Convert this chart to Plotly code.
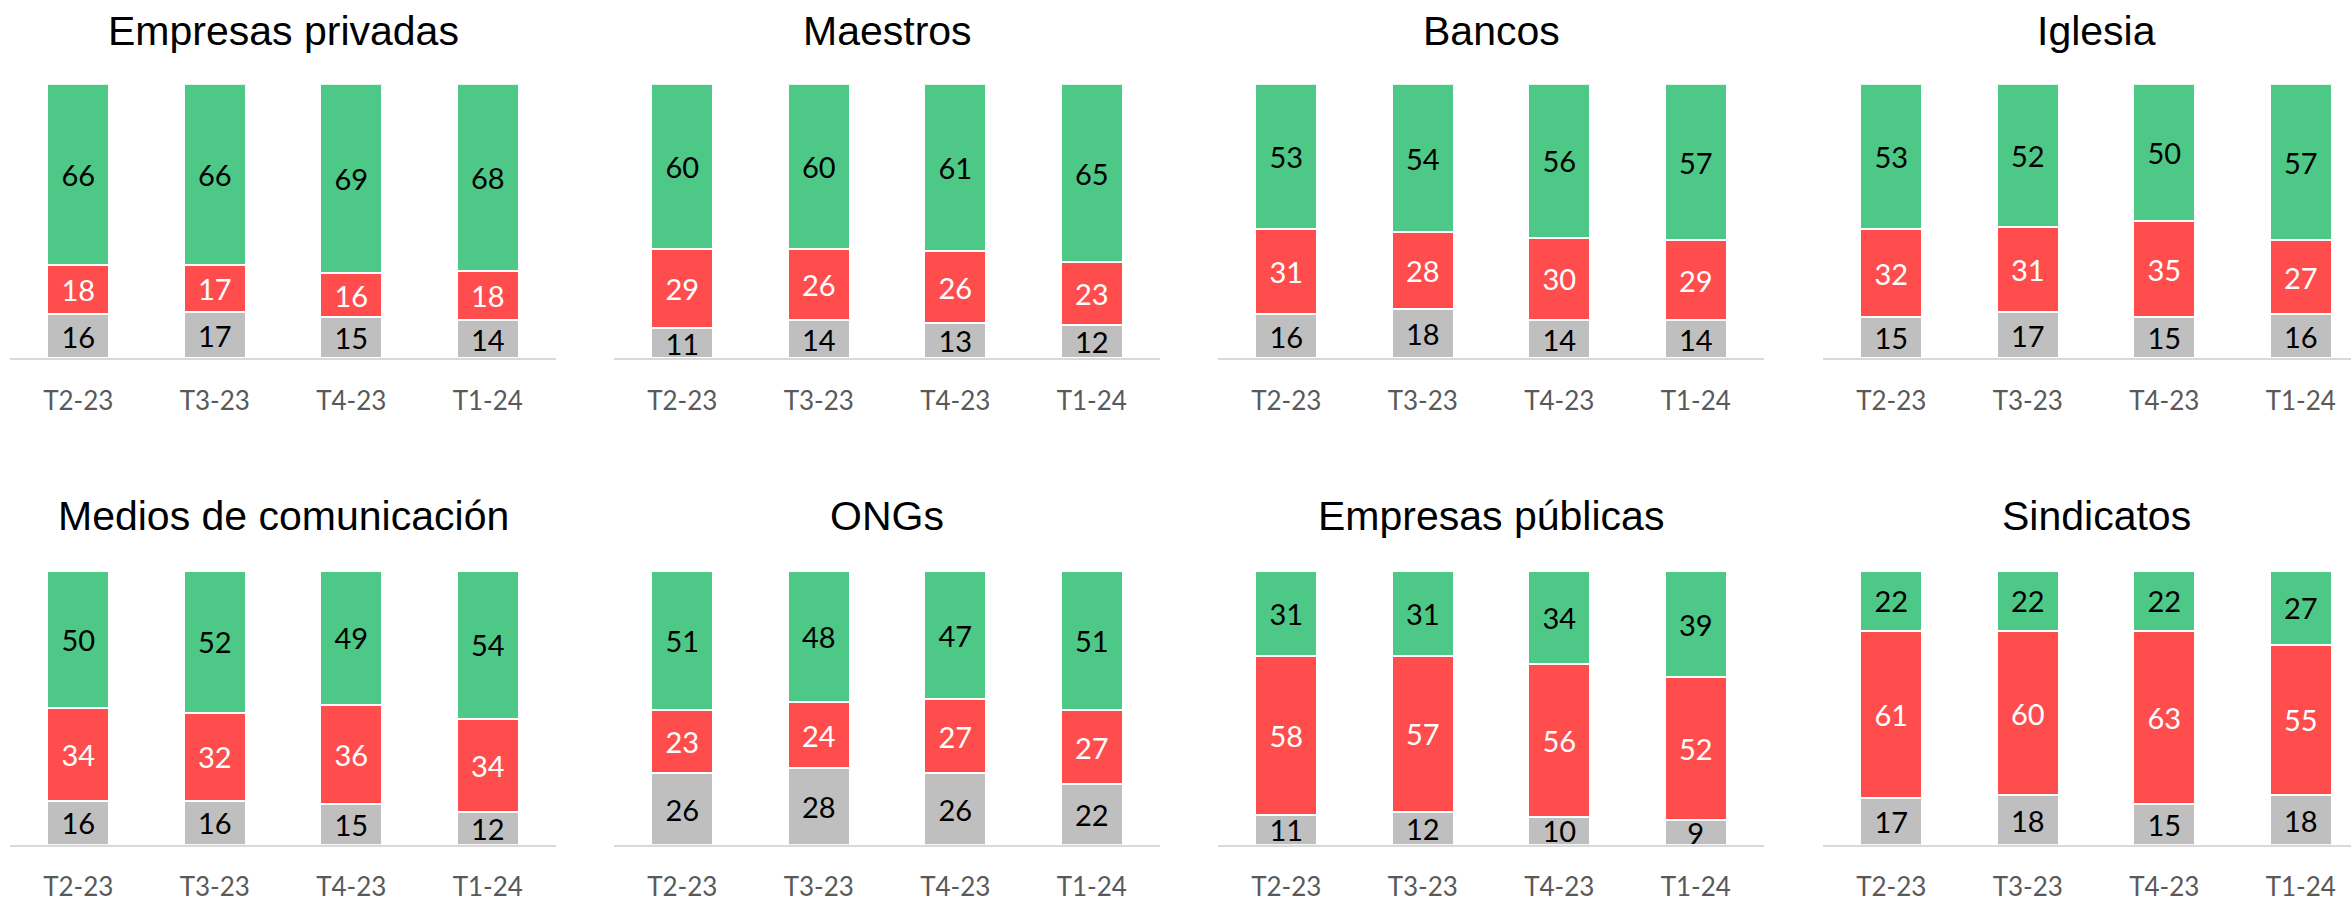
import plotly.graph_objects as go

periodos = ["T2-23", "T3-23", "T4-23", "T1-24"]
instituciones = ["Empresas privadas", "Maestros", "Bancos", "Iglesia",
                 "Medios de comunicación", "ONGs", "Empresas públicas", "Sindicatos"]

positivo = {
    "Empresas privadas": [66, 66, 69, 68],
    "Maestros": [60, 60, 61, 65],
    "Bancos": [53, 54, 56, 57],
    "Iglesia": [53, 52, 50, 57],
    "Medios de comunicación": [50, 52, 49, 54],
    "ONGs": [51, 48, 47, 51],
    "Empresas públicas": [31, 31, 34, 39],
    "Sindicatos": [22, 22, 22, 27],
}
negativo = {
    "Empresas privadas": [18, 17, 16, 18],
    "Maestros": [29, 26, 26, 23],
    "Bancos": [31, 28, 30, 29],
    "Iglesia": [32, 31, 35, 27],
    "Medios de comunicación": [34, 32, 36, 34],
    "ONGs": [23, 24, 27, 27],
    "Empresas públicas": [58, 57, 56, 52],
    "Sindicatos": [61, 60, 63, 55],
}
ns_nc = {
    "Empresas privadas": [16, 17, 15, 14],
    "Maestros": [11, 14, 13, 12],
    "Bancos": [16, 18, 14, 14],
    "Iglesia": [15, 17, 15, 16],
    "Medios de comunicación": [16, 16, 15, 12],
    "ONGs": [26, 28, 26, 22],
    "Empresas públicas": [11, 12, 10, 9],
    "Sindicatos": [17, 18, 15, 18],
}

W, H = 2351, 902
GREEN, RED, GRAY = "#4DC886", "#FF4D4D", "#BFBFBF"
UNIT = 136.5  # px per category
col_starts = [10, 614, 1218, 1823]
rows = [(359.5, 84.5), (847.5, 572.5)]  # (bottom px, top px)
LABEL_FONT = "Lato"

fig = go.Figure()
layout = dict(width=W, height=H, margin=dict(l=0, r=0, t=0, b=0),
              paper_bgcolor="white", plot_bgcolor="white",
              showlegend=False, barmode="stack",
              uniformtext=dict(minsize=29, mode="show"))
annotations = []

series = [(ns_nc, GRAY, "black", "NS/NC"),
          (negativo, RED, "white", "Desconfianza"),
          (positivo, GREEN, "black", "Confianza")]

for i, inst in enumerate(instituciones):
    r, c = divmod(i, 4)
    idx = i + 1
    xa = "x" if idx == 1 else f"x{idx}"
    ya = "y" if idx == 1 else f"y{idx}"
    x0 = col_starts[c]
    x1 = min(x0 + 4 * UNIT, W)
    span_units = (x1 - x0) / UNIT
    bottom, top = rows[r]
    for data, color, tcolor, name in series:
        vals = data[inst]
        fig.add_trace(go.Bar(
            x=periodos, y=vals, name=name, xaxis=xa, yaxis=ya,
            marker=dict(color=color, line=dict(color="white", width=2)),
            width=0.455,
            text=[str(v) for v in vals], textposition="inside",
            insidetextanchor="middle", textangle=0,
            textfont=dict(family=LABEL_FONT, size=29, color=tcolor),
            hoverinfo="skip"))
    kx = "xaxis" if idx == 1 else f"xaxis{idx}"
    ky = "yaxis" if idx == 1 else f"yaxis{idx}"
    layout[kx] = dict(domain=[x0 / W, x1 / W], anchor=ya,
                      type="category", range=[-0.5, -0.5 + span_units],
                      showline=True, linecolor="#D9D9D9", linewidth=2,
                      showgrid=False, zeroline=False,
                      ticks="outside", ticklen=18, tickcolor="rgba(0,0,0,0)",
                      tickfont=dict(family=LABEL_FONT, size=26, color="#595959"),
                      fixedrange=True)
    layout[ky] = dict(domain=[1 - bottom / H, 1 - top / H], anchor=xa,
                      range=[0, 100], visible=False, showgrid=False,
                      fixedrange=True)
    cx = (x0 + x0 + 4 * UNIT) / 2
    ty = 31 if r == 0 else 518
    annotations.append(dict(text=inst, xref="paper", yref="paper",
                            x=cx / W, y=1 - ty / H, xanchor="center", yanchor="middle",
                            showarrow=False,
                            font=dict(family="Liberation Sans", size=41, color="black")))

layout["annotations"] = annotations
fig.update_layout(**layout)
fig.write_html("out.html", config={"displayModeBar": False},
               post_script="document.body.style.margin='0';document.body.style.overflow='hidden';")
